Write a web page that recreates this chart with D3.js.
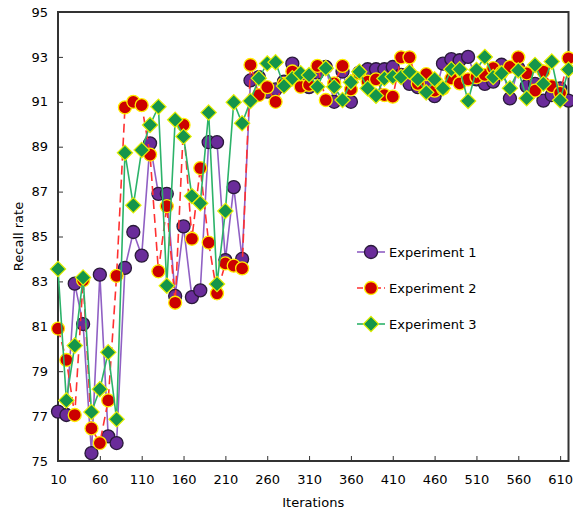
<!DOCTYPE html>
<html><head><meta charset="utf-8">
<script src="https://cdn.jsdelivr.net/npm/d3@7"></script>
<style>body{margin:0;background:#fff}svg{display:block}text{font-family:"DejaVu Sans",Verdana,sans-serif}</style>
</head><body>
<svg id="c" width="573" height="514"></svg>
<script>
const iterations = d3.range(10, 621, 10);
const exp1 = [77.2,77.05,82.9,81.1,75.35,83.3,76.1,75.8,83.6,85.2,84.15,89.15,86.9,86.9,82.35,85.45,82.3,82.6,89.2,89.2,83.95,87.2,84.0,91.95,92.1,91.45,91.55,91.9,92.7,92.0,91.65,92.3,92.55,91.0,92.35,91.0,92.3,92.45,92.45,92.45,92.55,92.2,91.8,91.65,91.9,91.25,92.7,92.9,92.85,93.0,92.0,91.8,91.9,92.65,91.15,92.5,91.7,91.8,91.05,91.3,91.6,91.05];
const exp2 = [80.9,79.5,77.05,83.05,76.45,75.8,77.7,83.25,90.75,91.0,90.85,88.65,83.45,86.35,82.05,89.97,84.9,88.05,84.73,82.47,83.8,83.7,83.58,92.64,91.3,91.65,91.0,91.8,92.35,91.67,91.75,92.6,91.08,91.82,92.6,91.55,92.27,91.9,92.0,91.3,91.23,92.98,92.98,91.8,92.23,91.5,91.6,92.04,91.82,92.0,92.1,92.2,92.5,92.3,92.56,92.98,92.27,91.5,92.35,91.7,91.4,92.94];
const exp3 = [83.55,77.7,80.14,83.17,77.18,78.2,79.84,76.86,88.73,86.39,88.85,89.97,90.78,82.81,90.2,89.45,86.8,86.48,90.52,82.88,86.14,90.98,90.04,91.04,92.05,92.71,92.76,91.7,92.05,92.27,92.19,91.67,92.5,91.67,91.08,91.87,92.34,91.6,91.27,92.04,92.12,92.1,92.34,92.0,91.42,92.0,91.6,92.45,92.45,91.04,92.42,93.0,92.1,92.27,91.6,92.4,91.16,92.64,91.8,92.79,91.07,92.44];
const xTicks = d3.range(10, 611, 50);
const yTicks = d3.range(75, 96, 2);
const seriesNames = ["Experiment 1", "Experiment 2", "Experiment 3"];

const svg = d3.select("#c");
const L = 58, R = 568.5, T = 12, B = 461;
const x = d3.scaleLinear().domain([10, 620]).range([L, R]);
const y = d3.scaleLinear().domain([75, 95]).range([B, T]);

const xa = svg.append("g").attr("transform", `translate(0,${B})`)
  .call(d3.axisBottom(x).tickValues(xTicks).tickSizeInner(-5).tickSizeOuter(0).tickPadding(14));
const ya = svg.append("g").attr("transform", `translate(${L},0)`)
  .call(d3.axisLeft(y).tickValues(yTicks).tickSizeInner(-5).tickSizeOuter(0).tickPadding(10));
[xa, ya].forEach(a => {
  a.select(".domain").remove();
  a.selectAll(".tick line").attr("stroke", "#333").attr("stroke-width", 1);
  a.selectAll("text").attr("font-size", 13).attr("fill", "#000").attr("font-family", '"DejaVu Sans",Verdana,sans-serif');
});
svg.append("rect").attr("x", L).attr("y", T).attr("width", R - L).attr("height", B - T)
  .attr("fill", "none").attr("stroke", "#333").attr("stroke-width", 2);

svg.append("text").attr("x", (L + R) / 2).attr("y", 507).attr("text-anchor", "middle")
  .attr("font-size", 13).text("Iterations");
svg.append("text").attr("transform", `translate(23,${(T + B) / 2}) rotate(-90)`).attr("text-anchor", "middle")
  .attr("font-size", 13).text("Recall rate");

const styles = [
  {data: exp1, line: "#9060c4", dash: null, fill: "#6a2c9a", stroke: "#2a1a3a", shape: "circle"},
  {data: exp2, line: "#ff3030", dash: "9,5", fill: "#cc0000", stroke: "#ffee00", shape: "circle"},
  {data: exp3, line: "#2cb36a", dash: null, fill: "#15954a", stroke: "#e6f000", shape: "diamond"}
];
const lineGen = d3.line().x((d, i) => x(iterations[i])).y(d => y(d));
const diamond = d3.symbol().type(d3.symbolDiamond2).size(150);
const plot = svg.append("g");
function marker(g, s, cx, cy) {
  if (s.shape === "circle") {
    g.append("circle").attr("cx", cx).attr("cy", cy).attr("r", 6.5)
      .attr("fill", s.fill).attr("stroke", s.stroke).attr("stroke-width", 1.3);
  } else {
    g.append("path").attr("d", diamond()).attr("transform", `translate(${cx},${cy})`)
      .attr("fill", s.fill).attr("stroke", s.stroke).attr("stroke-width", 1.2);
  }
}
styles.forEach(s => {
  const g = plot.append("g");
  g.append("path").datum(s.data).attr("d", lineGen).attr("fill", "none")
    .attr("stroke", s.line).attr("stroke-width", 1.6).attr("stroke-dasharray", s.dash);
  s.data.forEach((v, i) => marker(g, s, x(iterations[i]), y(v)));
});

const lg = svg.append("g");
styles.forEach((s, i) => {
  const ly = 252 + i * 36;
  lg.append("line").attr("x1", 357).attr("x2", 385).attr("y1", ly).attr("y2", ly)
    .attr("stroke", s.line).attr("stroke-width", 1.6).attr("stroke-dasharray", s.dash ? "6,3" : null);
  marker(lg, s, 371, ly);
  lg.append("text").attr("x", 389).attr("y", ly + 5).attr("font-size", 13).text(seriesNames[i]);
});
</script>
</body></html>
